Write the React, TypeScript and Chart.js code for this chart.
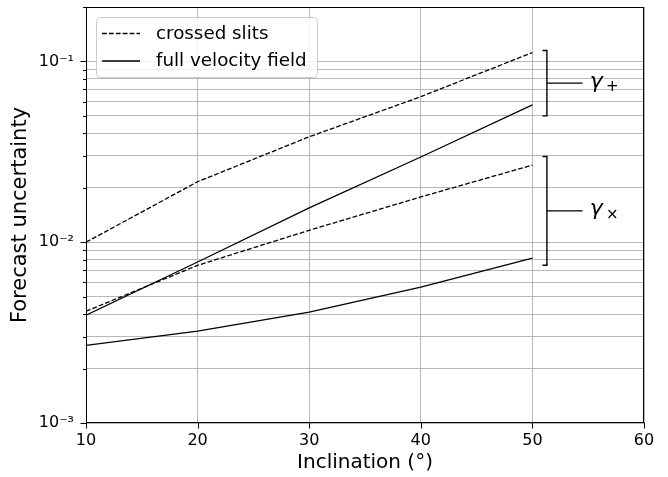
import React, { useEffect, useRef } from 'react';
import { Chart, registerables } from 'chart.js';

Chart.register(...registerables);

// ---- data ----
const inclinations = [10, 20, 30, 40, 50];
const crossedSlitsPlus = [0.01, 0.0216, 0.0383, 0.0638, 0.112];
const fullFieldPlus = [0.00395, 0.00777, 0.0155, 0.0296, 0.0575];
const crossedSlitsCross = [0.00415, 0.00745, 0.01164, 0.0178, 0.0267];
const fullFieldCross = [0.00269, 0.00322, 0.0041, 0.00565, 0.00817];

const xTickValues = [10, 20, 30, 40, 50, 60];
const yDecades = [0.001, 0.01, 0.1];
const yDecadeLabels = ['10⁻³', '10⁻²', '10⁻¹'];
const legendLabels = ['crossed slits', 'full velocity field'];
const xTitle = 'Inclination (°)';
const yTitle = 'Forecast uncertainty';

const bracketTops = [0.115, 0.0298];
const bracketBottoms = [0.05, 0.00745];
const bracketSymbols = ['+', '×'];

const FONT = "'DejaVu Sans', sans-serif";
const DASH = [4.8, 2.1];

function pts(ys: number[]) {
  return inclinations.map((x, i) => ({ x, y: ys[i] }));
}

function decadeIndex(v: number) {
  return yDecades.findIndex((d) => Math.abs(v - d) / d < 1e-6);
}

const decorPlugin = {
  id: 'decor',
  afterDraw(chart: any) {
    const { ctx, chartArea } = chart;
    const xs = chart.scales.x;
    const ys = chart.scales.y;
    const L = Math.round(chartArea.left) + 0.5;
    const R = Math.round(chartArea.right) - 0.5;
    const T = Math.round(chartArea.top) + 0.5;
    const B = Math.round(chartArea.bottom) - 0.5;
    ctx.save();
    // frame
    ctx.strokeStyle = '#000';
    ctx.lineWidth = 1;
    ctx.setLineDash([]);
    ctx.strokeRect(L, T, R - L, B - T);
    // y ticks
    ys.ticks.forEach((t: any) => {
      const y = Math.round(ys.getPixelForValue(t.value)) + 0.5;
      const len = decadeIndex(t.value) >= 0 ? 6 : 3.5;
      ctx.beginPath();
      ctx.moveTo(L - len, y);
      ctx.lineTo(L, y);
      ctx.stroke();
    });
    // x ticks
    xs.ticks.forEach((t: any) => {
      const x = Math.round(xs.getPixelForValue(t.value)) + 0.5;
      ctx.beginPath();
      ctx.moveTo(x, B);
      ctx.lineTo(x, B + 6);
      ctx.stroke();
    });

    // brackets
    const xV = xs.getPixelForValue(51.3);
    const xS = xs.getPixelForValue(50.9);
    const xE = xs.getPixelForValue(54.5);
    const xG = xs.getPixelForValue(55.15);
    ctx.lineWidth = 1.4;
    bracketTops.forEach((top, i) => {
      const yT = ys.getPixelForValue(top);
      const yB = ys.getPixelForValue(bracketBottoms[i]);
      const yM = ys.getPixelForValue(Math.sqrt(top * bracketBottoms[i]));
      ctx.beginPath();
      ctx.moveTo(xS, yT);
      ctx.lineTo(xV, yT);
      ctx.lineTo(xV, yB);
      ctx.lineTo(xS, yB);
      ctx.moveTo(xV, yM);
      ctx.lineTo(xE, yM);
      ctx.stroke();
      ctx.fillStyle = '#000';
      ctx.font = `italic 22px ${FONT}`;
      ctx.textAlign = 'left';
      ctx.textBaseline = 'alphabetic';
      ctx.fillText('γ', xG, yM + 4.5);
      const gw = ctx.measureText('γ').width;
      ctx.font = `15px ${FONT}`;
      ctx.textBaseline = 'middle';
      ctx.fillText(bracketSymbols[i], xG + gw + 3, yM + 4);
    });

    // legend
    const lx = 96, ly = 17, lw = 221, lh = 60;
    ctx.beginPath();
    ctx.roundRect(lx + 0.5, ly + 0.5, lw, lh, 4);
    ctx.fillStyle = 'rgba(255,255,255,0.8)';
    ctx.fill();
    ctx.strokeStyle = '#cccccc';
    ctx.lineWidth = 1;
    ctx.stroke();
    const rows = [33.5, 61];
    legendLabels.forEach((label, i) => {
      const y = rows[i];
      ctx.strokeStyle = '#000';
      ctx.lineWidth = 1.3;
      ctx.setLineDash(i === 0 ? DASH : []);
      ctx.beginPath();
      ctx.moveTo(102, y);
      ctx.lineTo(140, y);
      ctx.stroke();
      ctx.setLineDash([]);
      ctx.fillStyle = '#000';
      ctx.font = `18.3px ${FONT}`;
      ctx.textAlign = 'left';
      ctx.textBaseline = 'middle';
      ctx.fillText(label, 156, y + 0.5);
    });
    ctx.restore();
  },
};

function zeroPad(s: any) {
  s.paddingTop = 0;
  s.paddingBottom = 0;
  s.paddingLeft = 0;
  s.paddingRight = 0;
}

export default function App() {
  const ref = useRef<HTMLCanvasElement | null>(null);
  useEffect(() => {
    document.body.style.margin = '0';
    if (!ref.current) return;
    const line = (data: number[], dashed: boolean) => ({
      data: pts(data),
      borderColor: '#000',
      borderWidth: 1.3,
      borderDash: dashed ? DASH : [],
      pointRadius: 0,
      tension: 0,
      fill: false,
    });
    const chart = new Chart(ref.current, {
      type: 'line',
      data: {
        datasets: [
          { label: legendLabels[0], ...line(crossedSlitsPlus, true) },
          { label: legendLabels[1], ...line(fullFieldPlus, false) },
          { label: legendLabels[0] + ' ×', ...line(crossedSlitsCross, true) },
          { label: legendLabels[1] + ' ×', ...line(fullFieldCross, false) },
        ],
      },
      options: {
        animation: false,
        responsive: false,
        layout: { padding: { top: 7, right: 24, left: 0, bottom: 0 } },
        plugins: { legend: { display: false }, tooltip: { enabled: false } },
        scales: {
          x: {
            type: 'linear',
            min: 10,
            max: 60,
            afterFit: (s: any) => { s.height = 54; zeroPad(s); },
            afterBuildTicks: (s: any) => { s.ticks = xTickValues.map((v) => ({ value: v })); },
            grid: { color: '#b0b0b0', lineWidth: 0.9, drawTicks: false },
            border: { display: false },
            ticks: { color: '#000', font: { family: FONT, size: 16 }, padding: 8, maxRotation: 0 },
            title: { display: true, text: xTitle, color: '#000', font: { family: FONT, size: 20 }, padding: { top: 0, bottom: 2 } },
          },
          y: {
            type: 'logarithmic',
            min: 0.001,
            max: 0.2,
            afterFit: (s: any) => { s.width = 86; zeroPad(s); },
            afterBuildTicks: (s: any) => {
              const t: any[] = [];
              yDecades.forEach((d) => {
                for (let m = 1; m <= 9; m++) t.push({ value: m * d });
              });
              t.push({ value: 0.2 });
              s.ticks = t.filter((o) => o.value <= 0.2 + 1e-9);
            },
            grid: { color: '#b0b0b0', lineWidth: 0.9, drawTicks: false },
            border: { display: false },
            ticks: {
              color: '#000',
              font: { family: FONT, size: 16 },
              padding: 12,
              autoSkip: false,
              callback: (v: any) => {
                const i = decadeIndex(Number(v));
                return i >= 0 ? yDecadeLabels[i] : '';
              },
            },
            title: { display: true, text: yTitle, color: '#000', font: { family: FONT, size: 21 }, padding: { top: 8, bottom: 0 } },
          },
        },
      },
      plugins: [decorPlugin],
    } as any);
    return () => chart.destroy();
  }, []);
  return (
    <div style={{ width: 668, height: 477 }}>
      <canvas ref={ref} width={668} height={477} style={{ display: 'block' }} />
    </div>
  );
}
